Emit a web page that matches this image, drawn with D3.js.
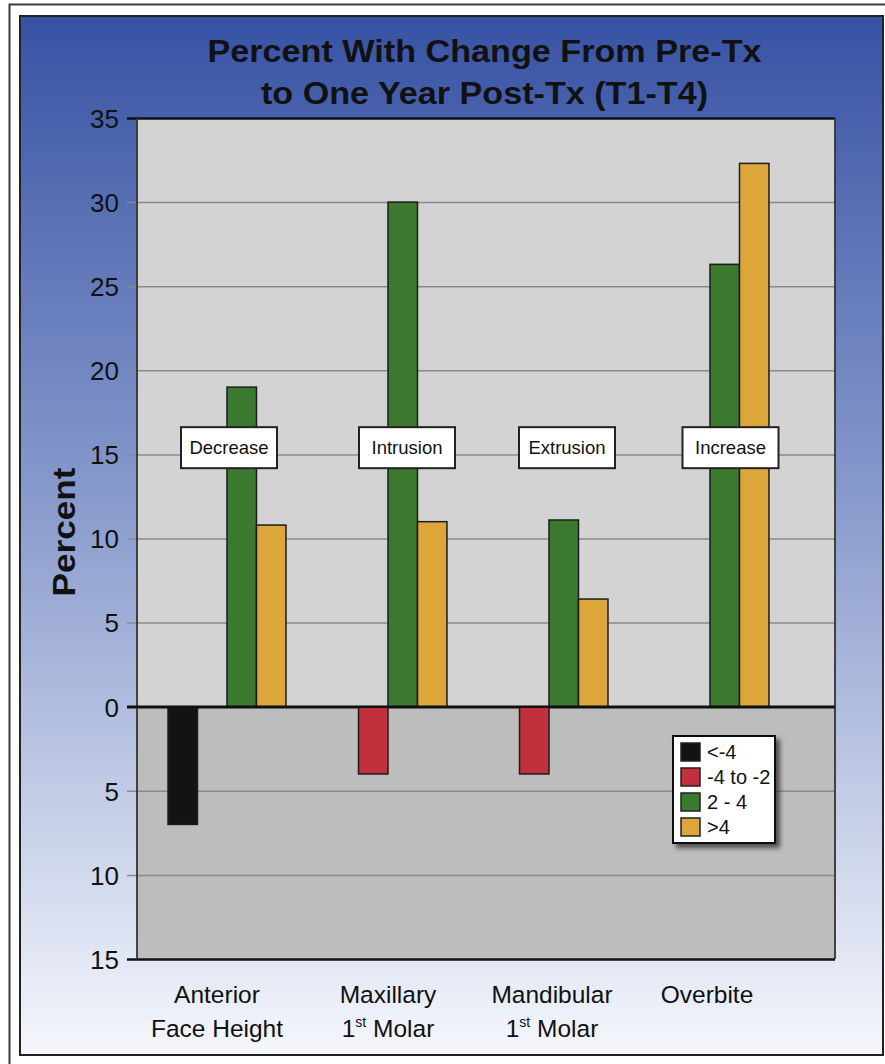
<!DOCTYPE html>
<html>
<head>
<meta charset="utf-8">
<script src="https://cdn.jsdelivr.net/npm/d3@7"></script>
<style>
  html, body { margin: 0; padding: 0; background: #ffffff; }
  svg { display: block; }
</style>
</head>
<body>
<svg id="chart" width="885" height="1064"></svg>
<script>
// ---------------- DATA ----------------
const categories = ["Anterior Face Height", "Maxillary 1st Molar", "Mandibular 1st Molar", "Overbite"];
const seriesNames = ["<-4", "-4 to -2", "2 - 4", ">4"];
const seriesLt4    = [-7, null, null, null];
const seriesM4toM2 = [null, -4, -4, null];
const series2to4   = [19, 30, 11.1, 26.3];
const seriesGt4    = [10.8, 11, 6.4, 32.3];
const annotations  = ["Decrease", "Intrusion", "Extrusion", "Increase"];
const yTicks = [35, 30, 25, 20, 15, 10, 5, 0, -5, -10, -15];
const titleLines = ["Percent With Change From Pre-Tx", "to One Year Post-Tx (T1-T4)"];
const yTitle = "Percent";

// ---------------- LAYOUT / STYLE ----------------
const colors = ["#131313", "#c1303c", "#3b7a2e", "#dda63a"];
const annotDx = [2, 19, 18, 20.5];
const labelDx = [-10, 0, 3, -3];
const plot = { left: 137, right: 835, top: 118, bottom: 959 };

const svg = d3.select("#chart");
const defs = svg.append("defs");
const grad = defs.append("linearGradient").attr("id", "bg").attr("x1", 0).attr("y1", 0).attr("x2", 0).attr("y2", 1);
grad.append("stop").attr("offset", "0%").attr("stop-color", "#3852a4");
grad.append("stop").attr("offset", "45%").attr("stop-color", "#8598cb");
grad.append("stop").attr("offset", "100%").attr("stop-color", "#f5f7fc");
const shadow = defs.append("filter").attr("id", "shadow").attr("x", "-20%").attr("y", "-20%").attr("width", "150%").attr("height", "150%");
shadow.append("feGaussianBlur").attr("in", "SourceAlpha").attr("stdDeviation", 2.5);
shadow.append("feOffset").attr("dx", 4).attr("dy", 4).attr("result", "ob");
shadow.append("feComponentTransfer").append("feFuncA").attr("type", "linear").attr("slope", 0.6);
const fm = shadow.append("feMerge");
fm.append("feMergeNode");
fm.append("feMergeNode").attr("in", "SourceGraphic");

// outer frame
svg.append("rect").attr("x", 0).attr("y", 0).attr("width", 885).attr("height", 1064).attr("fill", "#ffffff");
svg.append("path").attr("d", "M9.5,1064 V4.5 H885").attr("fill", "none").attr("stroke", "#3a3a3a").attr("stroke-width", 2);
// panel
svg.append("rect").attr("x", 20).attr("y", 16).attr("width", 863).attr("height", 1039)
  .attr("fill", "url(#bg)").attr("stroke", "#222").attr("stroke-width", 2);

// scales
const y = d3.scaleLinear().domain([-15, 35]).range([plot.bottom, plot.top]);
const x0 = d3.scaleBand().domain(categories).range([146.5, 790.5]).padding(0);
const x1 = d3.scaleBand().domain(seriesNames).range([0, x0.bandwidth()]).paddingInner(0).paddingOuter(0.73);

// plot backgrounds
svg.append("rect").attr("x", plot.left).attr("y", y(35)).attr("width", plot.right - plot.left).attr("height", y(0) - y(35)).attr("fill", "#d3d3d3");
svg.append("rect").attr("x", plot.left).attr("y", y(0)).attr("width", plot.right - plot.left).attr("height", y(-15) - y(0)).attr("fill", "#bcbdbc");

// grid lines + ticks
const yAxis = d3.axisLeft(y).tickValues(yTicks).tickSize(-(plot.right - plot.left + 10)).tickFormat(d => Math.abs(d));
const yg = svg.append("g").attr("transform", `translate(${plot.left},0)`).call(yAxis);
yg.select(".domain").remove();
yg.selectAll(".tick line").attr("x1", -10).attr("x2", plot.right - plot.left)
  .attr("stroke", d => (d === 0 || d === 35 || d === -15) ? "#111" : "#8a8a8a")
  .attr("stroke-width", d => (d === 0 || d === 35 || d === -15) ? 2.5 : 1.5);
yg.selectAll(".tick text").attr("x", -18).attr("dy", "0.36em")
  .attr("font-family", "'Liberation Sans', Arial, sans-serif").attr("font-size", 26).attr("fill", "#111");

// left / right borders
svg.append("line").attr("x1", plot.left).attr("x2", plot.left).attr("y1", plot.top).attr("y2", plot.bottom).attr("stroke", "#333").attr("stroke-width", 1.8);
svg.append("line").attr("x1", plot.right).attr("x2", plot.right).attr("y1", plot.top).attr("y2", plot.bottom).attr("stroke", "#333").attr("stroke-width", 1.8);

// bars
const allSeries = [seriesLt4, seriesM4toM2, series2to4, seriesGt4];
const barData = [];
categories.forEach((c, ci) => {
  seriesNames.forEach((s, si) => {
    const v = allSeries[si][ci];
    if (v !== null && v !== undefined) barData.push({ c, s, si, v });
  });
});
svg.append("g").selectAll("rect").data(barData).join("rect")
  .attr("x", d => x0(d.c) + x1(d.s))
  .attr("width", x1.bandwidth())
  .attr("y", d => y(Math.max(0, d.v)))
  .attr("height", d => Math.abs(y(d.v) - y(0)))
  .attr("fill", d => colors[d.si])
  .attr("stroke", "#1c1c1c").attr("stroke-width", 1.5);

// redraw zero line on top
svg.append("line").attr("x1", plot.left - 10).attr("x2", plot.right).attr("y1", y(0)).attr("y2", y(0)).attr("stroke", "#111").attr("stroke-width", 2.5);

// annotation boxes
const ag = svg.append("g");
annotations.forEach((a, i) => {
  const cx = x0(categories[i]) + x0.bandwidth() / 2 + annotDx[i];
  const cy = y(15.4);
  ag.append("rect").attr("x", cx - 48).attr("y", cy - 20.5).attr("width", 96).attr("height", 41)
    .attr("fill", "#fff").attr("stroke", "#222").attr("stroke-width", 2);
  ag.append("text").attr("x", cx).attr("y", cy).attr("dy", "0.35em").attr("text-anchor", "middle")
    .attr("font-family", "'Liberation Sans', Arial, sans-serif").attr("font-size", 18.5).attr("fill", "#111").text(a);
});

// category labels
const catLines = [["Anterior", "Face Height"], ["Maxillary", "1|st| Molar"], ["Mandibular", "1|st| Molar"], ["Overbite"]];
categories.forEach((c, i) => {
  const cx = x0(c) + x0.bandwidth() / 2 + labelDx[i];
  catLines[i].forEach((line, li) => {
    const t = svg.append("text").attr("x", cx).attr("y", 1003 + li * 34).attr("text-anchor", "middle")
      .attr("font-family", "'Liberation Sans', Arial, sans-serif").attr("font-size", 24.5).attr("fill", "#111");
    const parts = line.split("|");
    if (parts.length === 1) t.text(line);
    else {
      t.append("tspan").text(parts[0]);
      t.append("tspan").attr("font-size", 14).attr("dy", -10).text(parts[1]);
      t.append("tspan").attr("dy", 10).text(parts[2]);
    }
  });
});

// title
titleLines.forEach((line, i) => {
  svg.append("text").attr("x", 484.5).attr("y", 62 + i * 42).attr("text-anchor", "middle")
    .attr("font-family", "'Liberation Sans Narrow', 'Arial Narrow', 'Liberation Sans', Arial, sans-serif")
    .attr("font-weight", "bold").attr("font-size", 32).attr("fill", "#111")
    .attr("textLength", i === 0 ? 554 : 447).attr("lengthAdjust", "spacingAndGlyphs")
    .text(line);
});

// y title
svg.append("text").attr("transform", "translate(75,532) rotate(-90)").attr("text-anchor", "middle")
  .attr("font-family", "'Liberation Sans', Arial, sans-serif").attr("font-weight", "bold").attr("font-size", 32)
  .attr("fill", "#111").attr("textLength", 129).attr("lengthAdjust", "spacingAndGlyphs").text(yTitle);

// legend
const lg = svg.append("g").attr("transform", "translate(673,736)");
lg.append("rect").attr("width", 102).attr("height", 107).attr("fill", "#fff").attr("stroke", "#111").attr("stroke-width", 2).attr("filter", "url(#shadow)");
seriesNames.forEach((s, i) => {
  const cy = 16 + i * 25;
  lg.append("rect").attr("x", 8).attr("y", cy - 9).attr("width", 19).attr("height", 18).attr("fill", colors[i]).attr("stroke", "#222").attr("stroke-width", 1.5);
  lg.append("text").attr("x", 34).attr("y", cy).attr("dy", "0.36em")
    .attr("font-family", "'Liberation Sans', Arial, sans-serif").attr("font-size", 20).attr("fill", "#111").text(s);
});
</script>
</body>
</html>
